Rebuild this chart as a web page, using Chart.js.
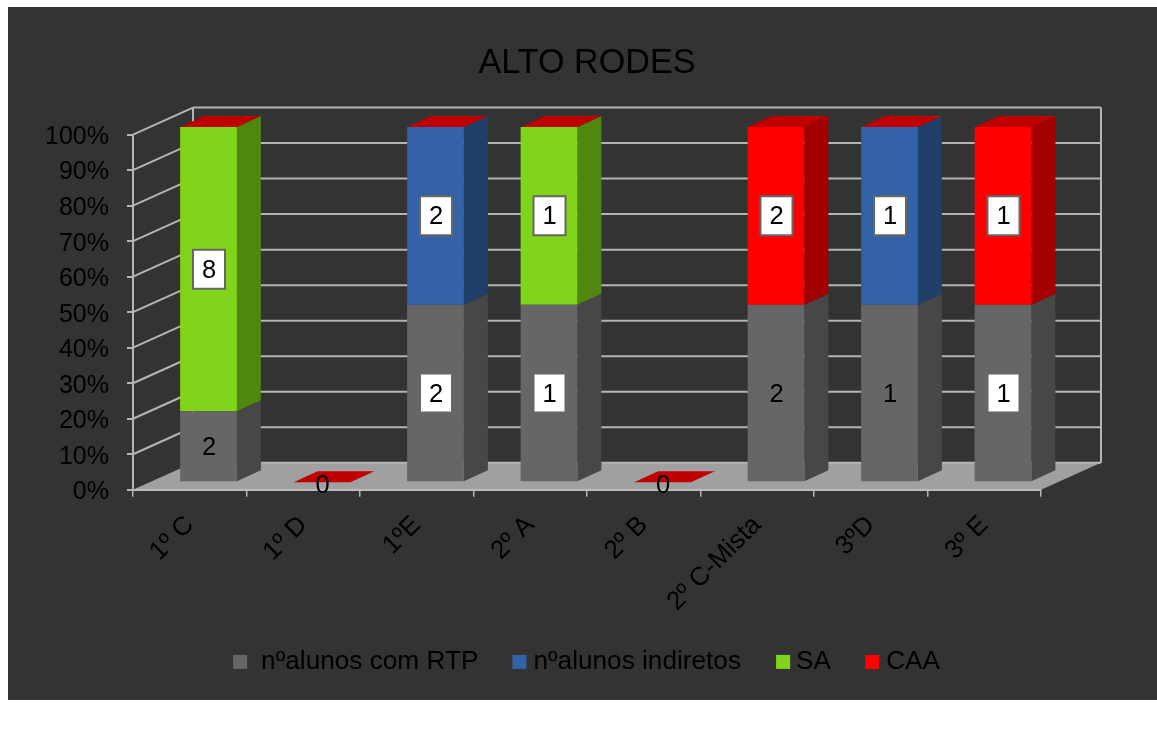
<!DOCTYPE html>
<html>
<head>
<meta charset="utf-8">
<script src="https://cdn.jsdelivr.net/npm/chart.js@4"></script>
<style>
html,body{margin:0;padding:0;background:#fff;overflow:hidden}
#panel{position:absolute;left:8px;top:7px;width:1149px;height:693px;background:#333333}
#wrap{position:absolute;left:0;top:0;width:1157px;height:729px}
</style>
</head>
<body>
<div id="panel"></div>
<div id="wrap"><canvas id="c" width="1157" height="729"></canvas></div>
<script>
const categories = ['1º C','1º D','1ºE','2º A','2º B','2º C-Mista','3ºD','3º E'];
const seriesNames = ['nºalunos com RTP','nºalunos indiretos','SA','CAA'];
const rtpCounts = [2,0,2,1,0,2,1,1];
const indiretosCounts = [0,0,2,0,0,0,1,0];
const saCounts = [8,0,0,1,0,0,0,0];
const caaCounts = [0,0,0,0,0,2,0,1];
const rtpBoxed = [false,false,true,true,false,false,false,true];
const indiretosBoxed = [false,false,true,false,false,false,true,false];
const saBoxed = [true,false,false,true,false,false,false,false];
const caaBoxed = [false,false,false,false,false,true,false,true];
const frontColors = ['#666666','#3363a6','#80d51a','#ff0000'];
const sideColors = ['#474747','#203f69','#50880f','#a30000'];
const topColor = '#c00000';

const counts = [rtpCounts,indiretosCounts,saCounts,caaCounts];
const boxed = [rtpBoxed,indiretosBoxed,saBoxed,caaBoxed];
const totals = categories.map((_,i)=>counts.reduce((s,a)=>s+a[i],0));
const percent = a => a.map((v,i)=>totals[i]?v/totals[i]*100:0);

const FONT = '"Liberation Sans", Arial, sans-serif';
const WALL = {dx:60, dy:-27};
const PLANE = {dx:18.75, dy:-7.5};
const DEPTH = {dx:24, dy:-11};
const GRID = '#b4b4b4';
const LEGEND_SIZE = 26.2;
const LEGEND_KEY = 14;
const LEGEND_GAPS = [14,7,6,7];

function poly(ctx, pts, fill){
  ctx.beginPath();
  pts.forEach((p,i)=> i?ctx.lineTo(p[0],p[1]):ctx.moveTo(p[0],p[1]));
  ctx.closePath();
  ctx.fillStyle = fill; ctx.fill();
}
function line(ctx,x0,y0,x1,y1){ctx.beginPath();ctx.moveTo(x0,y0);ctx.lineTo(x1,y1);ctx.stroke();}

const scene = {
  id:'scene',
  beforeDraw(chart){
    const ctx = chart.ctx, a = chart.chartArea, y = chart.scales.y;
    ctx.save();
    poly(ctx,[[a.left,a.bottom],[a.left+WALL.dx,a.bottom+WALL.dy],[a.right+WALL.dx,a.bottom+WALL.dy],[a.right,a.bottom]],'#a0a0a0');
    ctx.strokeStyle = GRID; ctx.lineWidth = 2;
    y.ticks.forEach(t=>{
      const py = y.getPixelForValue(t.value);
      if(t.value>0) line(ctx,a.left,py,a.left+WALL.dx,py+WALL.dy);
      line(ctx,a.left+WALL.dx,py+WALL.dy,a.right+WALL.dx,py+WALL.dy);
    });
    line(ctx,a.left+WALL.dx,a.top+WALL.dy,a.left+WALL.dx,a.bottom+WALL.dy);
    line(ctx,a.right+WALL.dx,a.top+WALL.dy,a.right+WALL.dx,a.bottom+WALL.dy);
    ctx.restore();
  },
  beforeDatasetsDraw(chart){
    const ctx = chart.ctx;
    ctx.save();
    ctx.translate(PLANE.dx,PLANE.dy);
    chart.data.datasets.forEach((ds,d)=>{
      chart.getDatasetMeta(d).data.forEach(b=>{
        const r = b.x+b.width/2, l = b.x-b.width/2;
        if(Math.abs(b.base-b.y)>0.01){
          poly(ctx,[[r,b.y],[r+DEPTH.dx,b.y+DEPTH.dy],[r+DEPTH.dx,b.base+DEPTH.dy],[r,b.base]],sideColors[d]);
        }
        if(d===chart.data.datasets.length-1){
          poly(ctx,[[l,b.y],[l+DEPTH.dx,b.y+DEPTH.dy],[r+DEPTH.dx,b.y+DEPTH.dy],[r,b.y]],topColor);
        }
      });
    });
  },
  afterDatasetsDraw(chart){
    const ctx = chart.ctx;
    ctx.font = '25.5px '+FONT;
    ctx.textAlign = 'center'; ctx.textBaseline = 'middle';
    chart.data.datasets.forEach((ds,d)=>{
      chart.getDatasetMeta(d).data.forEach((b,i)=>{
        const v = counts[d][i];
        const isZeroColumn = totals[i]===0 && d===chart.data.datasets.length-1;
        if(v===0 && !isZeroColumn) return;
        const cy = isZeroColumn ? b.y+2 : (b.y+b.base)/2;
        if(boxed[d][i]){
          ctx.fillStyle='#ffffff'; ctx.strokeStyle='#666666'; ctx.lineWidth=2;
          ctx.beginPath(); ctx.rect(b.x-15.5,cy-19.5,32,39); ctx.fill(); ctx.stroke();
        }
        ctx.fillStyle='#000000';
        ctx.fillText(String(v),b.x+0.5,cy+1.5);
      });
    });
    ctx.restore();
  },
  afterDraw(chart){
    const ctx = chart.ctx, lg = chart.legend;
    lg.legendHitBoxes.forEach((h,i)=>{
      const textLeft = h.left+LEGEND_KEY+LEGEND_SIZE/2;
      ctx.fillStyle = frontColors[i];
      ctx.fillRect(textLeft-LEGEND_GAPS[i]-LEGEND_KEY,h.top+h.height/2-LEGEND_KEY/2,LEGEND_KEY,LEGEND_KEY);
    });
  }
};

new Chart(document.getElementById('c'),{
  type:'bar',
  plugins:[scene],
  data:{
    labels:categories,
    datasets:counts.map((a,d)=>({
      label:seriesNames[d],
      data:percent(a),
      backgroundColor:frontColors[d],
      borderWidth:0,
      categoryPercentage:1,
      barPercentage:0.5
    }))
  },
  options:{
    responsive:false,
    animation:false,
    layout:{padding:{left:0,right:116,top:0,bottom:44}},
    plugins:{
      tooltip:{enabled:false},
      title:{
        display:true,text:'ALTO RODES',color:'#000000',fullSize:false,
        font:{family:FONT,size:34.2,weight:'normal',lineHeight:1.2},
        padding:{top:43,bottom:50.5}
      },
      legend:{
        position:'bottom',fullSize:false,
        labels:{
          color:'#000000',boxWidth:LEGEND_KEY,boxHeight:LEGEND_KEY,padding:28,
          font:{family:FONT,size:LEGEND_SIZE},
          generateLabels(chart){
            return Chart.defaults.plugins.legend.labels.generateLabels(chart)
              .map(it=>Object.assign(it,{fillStyle:'rgba(0,0,0,0)',strokeStyle:'rgba(0,0,0,0)'}));
          }
        }
      }
    },
    scales:{
      x:{
        stacked:true,
        afterFit(s){s.height=131;},
        grid:{offset:true,drawOnChartArea:false,drawTicks:true,tickLength:7,color:GRID,lineWidth:1.5},
        border:{color:'#bcbcbc',width:2},
        ticks:{color:'#000000',font:{family:FONT,size:26},minRotation:45,maxRotation:45,padding:13,autoSkip:false}
      },
      y:{
        stacked:true,min:0,max:100,
        afterFit(s){s.width=133;},
        grid:{drawOnChartArea:false,drawTicks:true,tickLength:6,color:GRID,lineWidth:2},
        border:{color:GRID,width:2},
        ticks:{color:'#000000',stepSize:10,font:{family:FONT,size:25},padding:18,labelOffset:2.5,callback:v=>v+'%'}
      }
    }
  }
});
</script>
</body>
</html>
